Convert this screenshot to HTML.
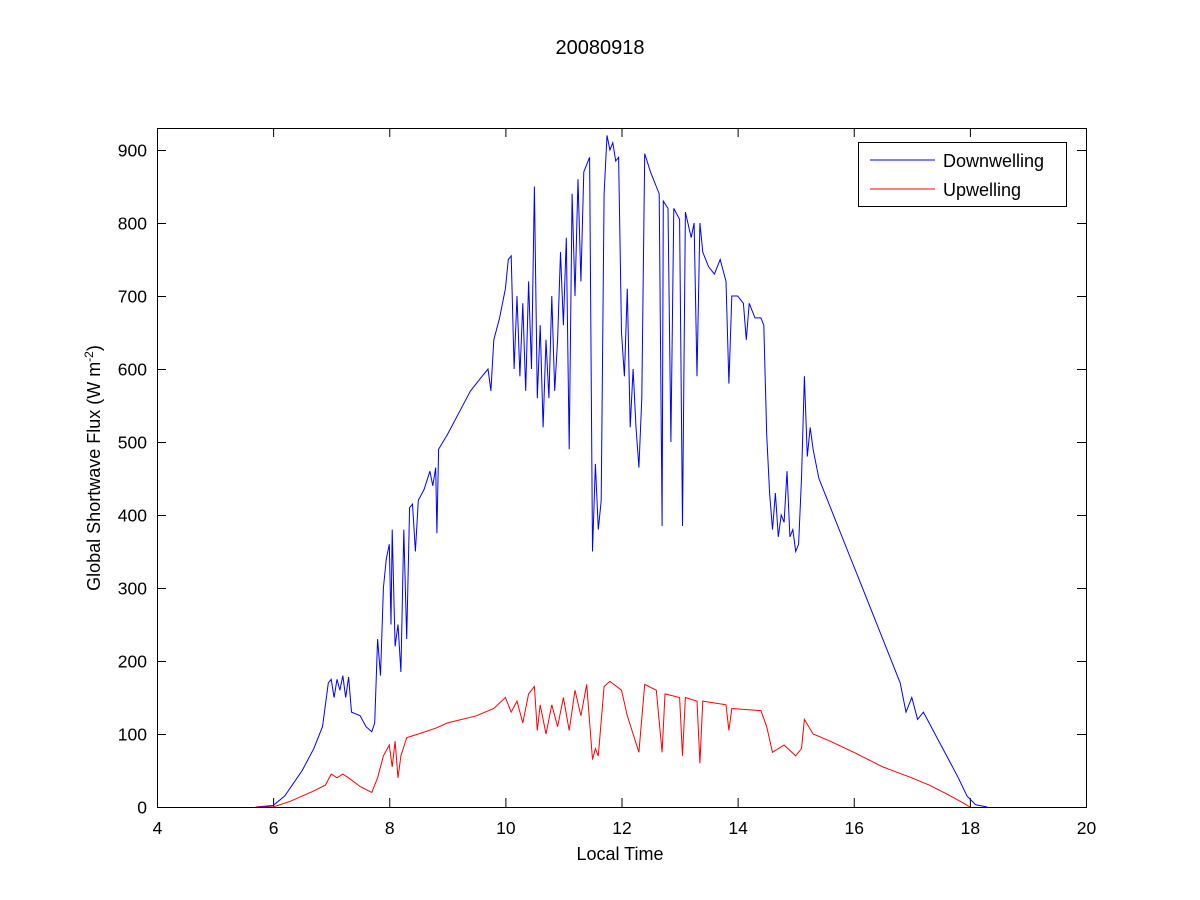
<!DOCTYPE html>
<html><head><meta charset="utf-8"><style>
body{margin:0;background:#fff;}
svg{display:block;font-family:"Liberation Sans",Arial,sans-serif;}
</style></head><body>
<svg id="s" width="1200" height="900" viewBox="0 0 1200 900">
<rect width="1200" height="900" fill="#fff"/>
<text x="600" y="54" font-size="20" text-anchor="middle">20080918</text>
<g id="ticks" stroke="#000" stroke-width="1"></g>
<g id="labels" font-size="17.5"></g>
<polyline id="dw" fill="none" stroke="#0000ff" stroke-width="1"/>
<polyline id="uw" fill="none" stroke="#ff0000" stroke-width="1"/>
<rect x="157.5" y="128.5" width="929" height="679" fill="none" stroke="#000"/>
<text x="620" y="860" font-size="18" text-anchor="middle">Local Time</text>
<text transform="translate(100,468) rotate(-90)" font-size="18" text-anchor="middle">Global Shortwave Flux (W m<tspan dy="-7" font-size="12">-2</tspan><tspan dy="7">)</tspan></text>
<rect x="858.5" y="142.5" width="208" height="64" fill="#fff" stroke="#000"/>
<line x1="870" y1="160" x2="935" y2="160" stroke="#0000ff"/>
<line x1="870" y1="189" x2="935" y2="189" stroke="#ff0000"/>
<text x="943" y="167" font-size="18">Downwelling</text>
<text x="943" y="196" font-size="18">Upwelling</text>
</svg>
<script>
var X=t=>157+(t-4)*929/16, Y=v=>807-v*0.73;
var tk=document.getElementById('ticks'),lb=document.getElementById('labels'),h='',l='';
for(var t=4;t<=20;t+=2){var x=X(t)+0.5;h+=`<line x1="${x}" y1="807" x2="${x}" y2="798"/><line x1="${x}" y1="128" x2="${x}" y2="137"/>`;l+=`<text x="${x}" y="834" text-anchor="middle">${t}</text>`;}
for(var v=0;v<=900;v+=100){var y=Y(v)+0.5;h+=`<line x1="157" y1="${y}" x2="166" y2="${y}"/><line x1="1086" y1="${y}" x2="1077" y2="${y}"/>`;l+=`<text x="147" y="${y+6}" text-anchor="end">${v}</text>`;}
tk.innerHTML=h;lb.innerHTML=l;
var d=[5.7,0,6,2,6.2,15,6.5,50,6.7,80,6.85,110,6.95,170,7.0,175,7.05,150,7.1,175,7.15,160,7.2,180,7.25,150,7.3,178,7.35,130,7.5,125,7.6,110,7.7,103,7.75,115,7.8,230,7.85,180,7.9,300,7.95,340,8.0,360,8.03,250,8.05,380,8.1,220,8.15,250,8.2,185,8.25,380,8.3,230,8.35,410,8.4,415,8.45,350,8.5,420,8.6,435,8.7,460,8.75,440,8.8,465,8.82,375,8.85,490,9.0,510,9.2,540,9.4,570,9.6,590,9.7,600,9.75,570,9.8,640,9.9,670,10.0,710,10.05,750,10.1,755,10.15,600,10.2,700,10.25,590,10.3,690,10.35,570,10.4,720,10.45,600,10.5,850,10.55,560,10.6,660,10.65,520,10.7,640,10.75,560,10.8,700,10.85,570,10.9,640,10.95,760,11.0,660,11.05,780,11.1,490,11.15,840,11.2,700,11.25,860,11.3,720,11.35,870,11.4,880,11.45,890,11.5,350,11.55,470,11.6,380,11.65,420,11.7,840,11.75,920,11.8,900,11.85,910,11.9,885,11.95,890,12.0,650,12.05,590,12.1,710,12.15,520,12.2,600,12.25,520,12.3,465,12.35,560,12.4,895,12.5,870,12.6,850,12.65,840,12.7,385,12.72,830,12.8,820,12.85,500,12.9,820,13.0,805,13.05,385,13.1,815,13.2,780,13.25,800,13.3,590,13.35,800,13.4,760,13.5,740,13.6,730,13.7,750,13.8,720,13.85,580,13.9,700,14.0,700,14.1,690,14.15,640,14.2,690,14.3,670,14.4,670,14.45,660,14.5,510,14.55,430,14.6,380,14.65,430,14.7,370,14.75,400,14.8,390,14.85,460,14.9,370,14.95,380,15.0,350,15.05,360,15.1,450,15.15,590,15.2,480,15.25,520,15.3,490,15.4,450,15.5,430,15.7,390,15.9,350,16.1,310,16.3,270,16.5,230,16.7,190,16.8,170,16.9,130,17.0,150,17.1,120,17.2,130,17.3,115,17.4,100,17.6,70,17.8,40,17.95,15,18.1,3,18.3,0];
var u=[5.7,0,6,0,6.3,8,6.7,22,6.9,30,7.0,45,7.1,40,7.2,45,7.3,40,7.5,28,7.7,20,7.8,40,7.9,70,8.0,85,8.05,55,8.1,90,8.15,40,8.2,70,8.3,95,8.5,100,8.8,108,9,115,9.5,125,9.8,135,10,150,10.1,130,10.2,145,10.3,115,10.4,155,10.5,165,10.55,105,10.6,140,10.7,100,10.8,140,10.9,110,11,150,11.1,105,11.2,160,11.3,125,11.4,168,11.5,65,11.55,80,11.6,70,11.7,165,11.8,172,12,160,12.1,125,12.2,100,12.3,75,12.4,168,12.6,160,12.7,75,12.75,155,13,150,13.05,70,13.1,150,13.3,145,13.35,60,13.4,145,13.8,140,13.85,105,13.9,135,14.4,132,14.5,110,14.6,75,14.8,85,15.0,70,15.1,80,15.15,120,15.3,100,15.6,90,16,75,16.5,55,17,40,17.3,30,17.6,18,17.9,5,18,0];
function pts(a){var s='';for(var i=0;i<a.length;i+=2)s+=X(a[i]).toFixed(1)+','+Y(a[i+1]).toFixed(1)+' ';return s;}
document.getElementById('dw').setAttribute('points',pts(d));
document.getElementById('uw').setAttribute('points',pts(u));
</script>
</body></html>
